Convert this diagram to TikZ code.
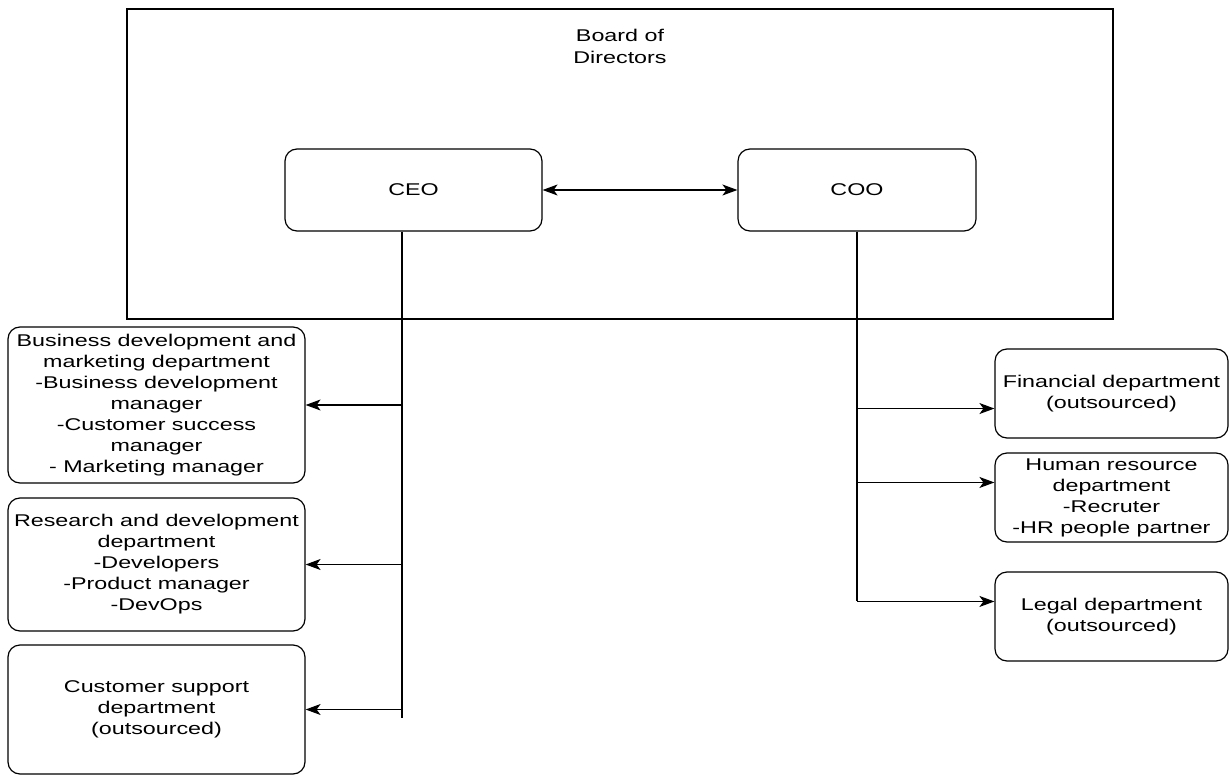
\documentclass[tikz,border=0pt]{standalone}
\usepackage{fontspec}
\setmainfont{Liberation Sans}[FakeStretch=1.37]
\usetikzlibrary{calc,arrows.meta}

\begin{document}
\begin{tikzpicture}[x=1pt,y=-1pt,line width=1.2pt,
	>={Stealth[length=15pt,width=11pt,inset=4pt]},
	dept/.style={draw,rectangle,rounded corners=12pt,align=center,inner sep=0pt,
		font=\fontsize{17}{21}\selectfont},
	board/.style={draw,rectangle,inner sep=0pt,minimum width=986,minimum height=310},
	title/.style={align=center,font=\fontsize{17}{22}\selectfont}]

	\useasboundingbox (0,0) rectangle (1230,775);

	% ---- board

	\node[board] (board) at (620,164) {};
	\node[title] (board title) at (620,46) {Board of\\Directors};

	% ---- executives

	\node[dept,minimum width=257,minimum height=82] (ceo) at (413.5,190) {CEO};
	\node[dept,minimum width=238,minimum height=82] (coo) at (857,190) {COO};

	\draw[<->] (ceo) -- (coo);

	% ---- departments of the CEO

	\node[dept,minimum width=297,minimum height=156] (bd) at (156.5,405)
		{Business development and\\marketing department\\-Business development\\manager\\-Customer success\\manager\\- Marketing manager};
	\node[dept,minimum width=297,minimum height=133] (rd) at (156.5,564.5)
		{Research and development\\department\\-Developers\\-Product manager\\-DevOps};
	\node[dept,minimum width=297,minimum height=129] (cs) at (156.5,709.5)
		{Customer support\\department\\(outsourced)};

	% ---- departments of the COO

	\node[dept,minimum width=233,minimum height=89] (fin) at (1111.5,393.5)
		{Financial department\\(outsourced)};
	\node[dept,minimum width=233,minimum height=89] (hr) at (1111.5,497.5)
		{Human resource\\department\\-Recruter\\-HR people partner};
	\node[dept,minimum width=233,minimum height=89] (legal) at (1111.5,616.5)
		{Legal department\\(outsourced)};

	% ---- entry points

	\coordinate (fin in) at ($(fin.north west)!2/3!(fin.south west)$);
	\coordinate (hr in) at ($(hr.north west)!1/3!(hr.south west)$);
	\coordinate (legal in) at ($(legal.north west)!1/3!(legal.south west)$);

	\coordinate (ceo bus) at (402,718);
	\coordinate (coo bus) at (coo.south |- legal in);

	% ---- CEO connectors

	\draw (ceo.south -| ceo bus) -- (ceo bus);
	\draw[->] (ceo bus |- bd.east) -- (bd.east);
	\draw[->] (ceo bus |- rd.east) -- (rd.east);
	\draw[->] (ceo bus |- cs.east) -- (cs.east);

	% ---- COO connectors

	\draw (coo.south) -- (coo bus);
	\draw[->] (coo bus |- fin in) -- (fin in);
	\draw[->] (coo bus |- hr in) -- (hr in);
	\draw[->] (coo bus) -- (legal in);

\end{tikzpicture}
\end{document}
